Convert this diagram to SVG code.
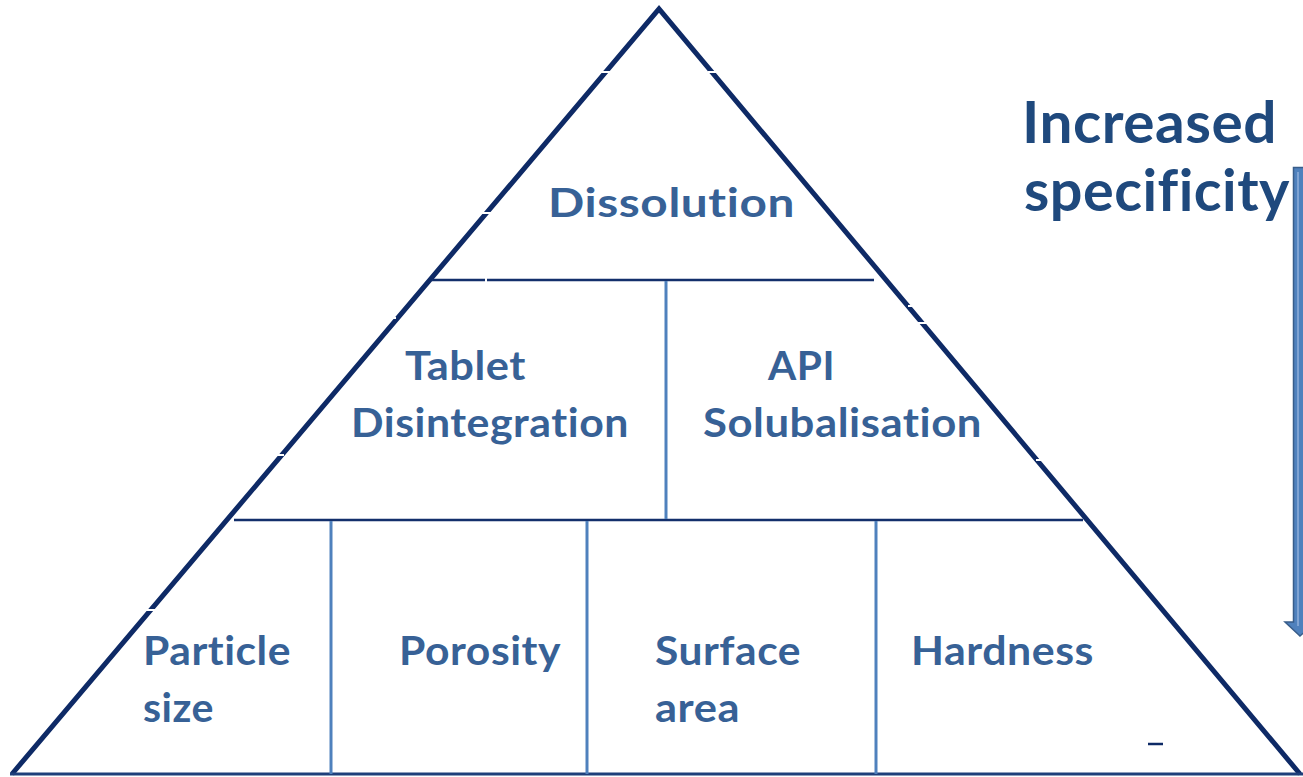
<svg xmlns="http://www.w3.org/2000/svg" width="1303" height="777" viewBox="0 0 1303 777">
  <style>
    text { font-variant-ligatures: none; font-feature-settings: "liga" 0, "dlig" 0, "clig" 0; letter-spacing: 0.5px; }
    .lbl { font-family: Lato, "Open Sans", "Liberation Sans", sans-serif; font-weight: bold; font-size: 40px; fill: #376196; }
    .head { font-family: Lato, "Open Sans", "Liberation Sans", sans-serif; font-weight: bold; font-size: 57px; fill: #1f497d; }
    .edge { fill: none; stroke: #0e2a66; stroke-width: 5; stroke-linejoin: miter; }
    .hdiv { stroke: #132f6b; stroke-width: 2.5; }
    .vdiv { stroke: #4f81bd; stroke-width: 3; }
    .gap { stroke: #ffffff; stroke-width: 2; }
  </style>
  <rect width="1303" height="777" fill="#ffffff"/>

  <!-- pyramid outline -->
  <g id="pyramid">
    <polyline class="edge" points="12,774 659,9 1300,774"/>
    <line x1="10" y1="774" x2="1303" y2="774" stroke="#1e3f7a" stroke-width="3"/>
  </g>

  <!-- tier dividers -->
  <g id="connectors">
    <line class="hdiv" x1="432" y1="280" x2="874" y2="280"/>
    <line class="hdiv" x1="234" y1="520" x2="1083" y2="520"/>
    <line class="vdiv" x1="666" y1="281" x2="666" y2="519"/>
    <line class="vdiv" x1="331" y1="521" x2="331" y2="774"/>
    <line class="vdiv" x1="587" y1="521" x2="587" y2="774"/>
    <line class="vdiv" x1="876" y1="521" x2="876" y2="774"/>
    <!-- small breaks along the outline -->
    <line class="gap" x1="598" y1="72" x2="610" y2="72"/>
    <line class="gap" x1="708" y1="72" x2="720" y2="72"/>
    <line class="gap" x1="480" y1="213" x2="492" y2="213"/>
    <line class="gap" x1="486" y1="276" x2="486" y2="284"/>
    <line class="gap" x1="384" y1="318" x2="396" y2="318"/>
    <line class="gap" x1="908" y1="306" x2="920" y2="306"/>
    <line class="gap" x1="918" y1="323" x2="930" y2="323"/>
    <line class="gap" x1="272" y1="455" x2="284" y2="455"/>
    <line class="gap" x1="1036" y1="460" x2="1048" y2="460"/>
    <line class="gap" x1="145" y1="610" x2="157" y2="610"/>
  </g>

  <g id="dissolution"><text class="lbl" x="548" y="217" textLength="247" lengthAdjust="spacingAndGlyphs">Dissolution</text></g>
  <g id="tablet-disintegration">
    <text class="lbl" x="405" y="380" textLength="121" lengthAdjust="spacingAndGlyphs">Tablet</text>
    <text class="lbl" x="351" y="437" textLength="278" lengthAdjust="spacingAndGlyphs">Disintegration</text>
  </g>
  <g id="api-solubalisation">
    <text class="lbl" x="768" y="380" textLength="67" lengthAdjust="spacingAndGlyphs">API</text>
    <text class="lbl" x="703" y="437" textLength="279" lengthAdjust="spacingAndGlyphs">Solubalisation</text>
  </g>
  <g id="particle-size">
    <text class="lbl" x="143" y="665" textLength="148" lengthAdjust="spacingAndGlyphs">Particle</text>
    <text class="lbl" x="143" y="722" textLength="71" lengthAdjust="spacingAndGlyphs">size</text>
  </g>
  <g id="porosity"><text class="lbl" x="399" y="665" textLength="162" lengthAdjust="spacingAndGlyphs">Porosity</text></g>
  <g id="surface-area">
    <text class="lbl" x="655" y="665" textLength="146" lengthAdjust="spacingAndGlyphs">Surface</text>
    <text class="lbl" x="655" y="722" textLength="85" lengthAdjust="spacingAndGlyphs">area</text>
  </g>
  <g id="hardness"><text class="lbl" x="911" y="665" textLength="183" lengthAdjust="spacingAndGlyphs">Hardness</text></g>

  <!-- stray dash -->
  <line x1="1148" y1="744" x2="1163" y2="744" stroke="#0e2a66" stroke-width="2.5"/>

  <!-- specificity arrow -->
  <g id="specificity">
    <text class="head" x="1022" y="143" textLength="255" lengthAdjust="spacingAndGlyphs">Increased</text>
    <text class="head" x="1024" y="211" textLength="266" lengthAdjust="spacingAndGlyphs">specificity</text>
    <path d="M1293.5,167.5 H1310 V622 H1316 L1300,636 L1285,622 H1293.5 Z" fill="#4f81bd" stroke="#385d8a" stroke-width="1.5"/>
    <line x1="1298" y1="172" x2="1298" y2="626" stroke="#7fa3d3" stroke-width="2"/>
  </g>
</svg>
